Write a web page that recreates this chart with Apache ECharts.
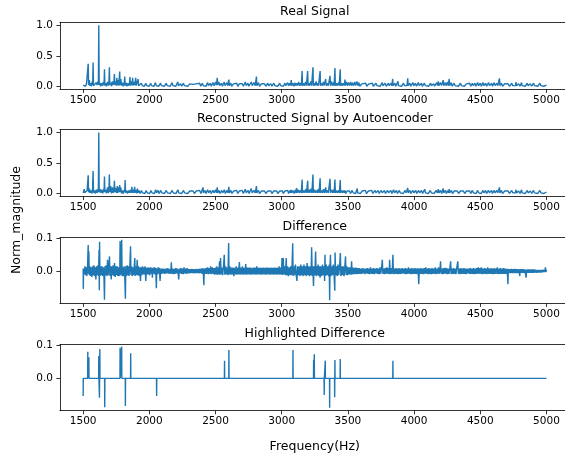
<!DOCTYPE html>
<html>
<head>
<meta charset="utf-8">
<script src="https://cdn.jsdelivr.net/npm/echarts@6/dist/echarts.min.js"></script>
<style>html,body{margin:0;padding:0;background:#fff}#c{width:565px;height:459px}</style>
</head>
<body>
<div id="c"></div>
<script>
const panelTitles = ['Real Signal', 'Reconstructed Signal by Autoencoder', 'Difference', 'Highlighted Difference'];
const xTicks = [1500, 2000, 2500, 3000, 3500, 4000, 4500, 5000];
const yTicksMag = [0, 0.5, 1.0];
const yTicksDiff = [0, 0.1];

const realSignal = [[1500,0.02],[1502,0.05],[1505,0.01],[1512,0.03],[1518,0.0],[1525,0.04],[1530,0.01],[1538,0.37],[1541,0.02],[1547,0.1],[1550,0.01],[1558,0.05],[1563,0.0],[1569,0.08],[1572,0.02],[1575,0.39],[1578,0.01],[1585,0.04],[1592,0.0],[1600,0.06],[1605,0.02],[1612,0.08],[1615,0.02],[1618,1.0],[1621,0.02],[1626,0.06],[1632,0.0],[1640,0.05],[1647,0.01],[1653,0.07],[1658,0.02],[1661,0.28],[1664,0.01],[1670,0.05],[1676,0.0],[1684,0.07],[1690,0.01],[1695,0.09],[1698,0.31],[1701,0.02],[1708,0.06],[1714,0.0],[1720,0.08],[1726,0.02],[1733,0.09],[1736,0.2],[1739,0.02],[1746,0.08],[1751,0.01],[1754,0.14],[1757,0.02],[1763,0.1],[1768,0.01],[1772,0.12],[1776,0.24],[1779,0.02],[1785,0.12],[1790,0.01],[1797,0.06],[1803,0.0],[1810,0.05],[1814,0.16],[1817,0.01],[1824,0.06],[1830,0.0],[1838,0.05],[1845,0.01],[1850,0.05],[1854,0.15],[1857,0.01],[1864,0.08],[1870,0.02],[1874,0.14],[1877,0.01],[1884,0.07],[1890,0.02],[1897,0.14],[1900,0.01],[1906,0.05],[1911,0.02],[1915,0.12],[1918,0.01],[1925,0.04],[1932,0.0],[1940,0.05],[1946,0.01],[1955,0.04],[1962,0.0],[1973,0.05],[1980,0.01],[1990,0.04],[1998,0.0],[2010,0.05],[2016,0.01],[2026,0.04],[2035,0.0],[2046,0.06],[2052,0.01],[2062,0.04],[2070,0.0],[2085,0.05],[2092,0.01],[2105,0.04],[2113,0.0],[2128,0.05],[2135,0.01],[2150,0.03],[2158,0.0],[2172,0.06],[2178,0.01],[2192,0.04],[2200,0.0],[2214,0.07],[2220,0.01],[2236,0.04],[2244,0.0],[2258,0.05],[2265,0.01],[2280,0.03],[2290,0.0],[2305,0.04],[2315,0.01],[2330,0.03],[2340,0.0],[2355,0.04],[2365,0.01],[2380,0.05],[2388,0.0],[2400,0.05],[2408,0.01],[2420,0.04],[2428,0.0],[2440,0.06],[2447,0.01],[2460,0.05],[2468,0.0],[2480,0.06],[2490,0.01],[2500,0.07],[2507,0.02],[2513,0.14],[2516,0.02],[2525,0.07],[2532,0.01],[2545,0.05],[2552,0.0],[2565,0.07],[2572,0.01],[2585,0.06],[2592,0.01],[2601,0.11],[2604,0.01],[2615,0.05],[2622,0.0],[2635,0.04],[2645,0.01],[2660,0.05],[2668,0.0],[2680,0.04],[2690,0.01],[2702,0.04],[2710,0.0],[2725,0.07],[2732,0.01],[2745,0.05],[2752,0.0],[2770,0.07],[2777,0.01],[2790,0.06],[2800,0.01],[2809,0.16],[2812,0.01],[2825,0.06],[2832,0.0],[2848,0.04],[2856,0.01],[2870,0.04],[2880,0.0],[2895,0.05],[2902,0.01],[2918,0.04],[2926,0.0],[2940,0.05],[2948,0.01],[2962,0.04],[2970,0.0],[2985,0.05],[2992,0.01],[3005,0.04],[3012,0.0],[3025,0.05],[3032,0.01],[3045,0.06],[3052,0.01],[3060,0.05],[3066,0.01],[3072,0.1],[3076,0.01],[3085,0.05],[3092,0.0],[3100,0.06],[3106,0.01],[3114,0.05],[3120,0.01],[3128,0.07],[3134,0.01],[3142,0.05],[3148,0.01],[3154,0.25],[3157,0.01],[3165,0.05],[3172,0.01],[3180,0.07],[3186,0.01],[3196,0.25],[3199,0.01],[3206,0.05],[3212,0.01],[3220,0.08],[3226,0.01],[3236,0.31],[3239,0.01],[3246,0.05],[3252,0.01],[3260,0.08],[3266,0.01],[3272,0.05],[3278,0.01],[3290,0.25],[3293,0.01],[3300,0.05],[3306,0.01],[3315,0.07],[3320,0.01],[3332,0.12],[3336,0.01],[3345,0.05],[3352,0.01],[3365,0.17],[3368,0.01],[3376,0.08],[3383,0.01],[3392,0.06],[3396,0.01],[3402,0.3],[3405,0.01],[3412,0.05],[3418,0.01],[3428,0.06],[3434,0.01],[3442,0.28],[3445,0.01],[3452,0.05],[3458,0.01],[3466,0.05],[3472,0.01],[3478,0.11],[3481,0.01],[3490,0.07],[3496,0.01],[3505,0.06],[3512,0.01],[3520,0.07],[3527,0.01],[3535,0.06],[3542,0.01],[3552,0.07],[3558,0.01],[3568,0.08],[3575,0.01],[3583,0.06],[3590,0.0],[3605,0.04],[3615,0.01],[3635,0.05],[3642,0.0],[3660,0.04],[3668,0.01],[3685,0.05],[3692,0.0],[3712,0.05],[3720,0.01],[3735,0.04],[3745,0.0],[3758,0.06],[3766,0.01],[3780,0.05],[3790,0.0],[3805,0.05],[3812,0.01],[3825,0.05],[3832,0.01],[3838,0.12],[3841,0.01],[3855,0.05],[3862,0.0],[3878,0.08],[3882,0.01],[3895,0.04],[3905,0.0],[3920,0.05],[3928,0.01],[3940,0.04],[3946,0.01],[3952,0.13],[3955,0.01],[3968,0.05],[3975,0.0],[3990,0.06],[3998,0.01],[4010,0.05],[4018,0.0],[4032,0.06],[4040,0.01],[4055,0.05],[4062,0.0],[4078,0.05],[4085,0.01],[4100,0.04],[4110,0.0],[4125,0.05],[4132,0.01],[4148,0.04],[4155,0.0],[4170,0.06],[4177,0.01],[4183,0.08],[4188,0.01],[4200,0.06],[4207,0.01],[4220,0.1],[4224,0.01],[4235,0.06],[4242,0.01],[4252,0.07],[4258,0.01],[4265,0.12],[4268,0.01],[4280,0.06],[4288,0.0],[4302,0.05],[4310,0.01],[4325,0.04],[4335,0.0],[4350,0.05],[4358,0.01],[4372,0.04],[4380,0.0],[4395,0.04],[4405,0.01],[4420,0.05],[4428,0.0],[4440,0.05],[4448,0.01],[4460,0.05],[4468,0.0],[4480,0.06],[4488,0.01],[4500,0.05],[4508,0.0],[4520,0.06],[4528,0.01],[4540,0.05],[4548,0.0],[4562,0.06],[4570,0.01],[4585,0.05],[4592,0.0],[4605,0.06],[4612,0.01],[4625,0.05],[4632,0.01],[4645,0.13],[4648,0.01],[4660,0.05],[4668,0.0],[4685,0.04],[4695,0.01],[4710,0.04],[4720,0.0],[4738,0.05],[4745,0.01],[4760,0.04],[4766,0.01],[4770,0.07],[4774,0.01],[4790,0.04],[4800,0.0],[4812,0.06],[4816,0.01],[4830,0.04],[4840,0.0],[4855,0.05],[4862,0.01],[4878,0.04],[4888,0.0],[4902,0.05],[4910,0.01],[4925,0.04],[4935,0.0],[4950,0.05],[4958,0.01],[4972,0.04],[4980,0.0],[4992,0.03],[5000,0.02]];

const reconSignal = [[1500,0.01],[1504,0.04],[1508,0.07],[1511,0.01],[1518,0.04],[1524,0.0],[1530,0.05],[1535,0.02],[1538,0.3],[1541,0.02],[1547,0.08],[1552,0.01],[1560,0.05],[1566,0.0],[1571,0.07],[1575,0.37],[1578,0.01],[1586,0.05],[1592,0.0],[1600,0.06],[1606,0.01],[1612,0.07],[1615,0.02],[1618,1.0],[1621,0.02],[1628,0.07],[1634,0.01],[1642,0.06],[1648,0.0],[1655,0.07],[1658,0.02],[1661,0.28],[1664,0.02],[1671,0.06],[1677,0.0],[1684,0.1],[1690,0.01],[1695,0.08],[1698,0.31],[1701,0.02],[1708,0.12],[1714,0.0],[1721,0.1],[1727,0.01],[1733,0.08],[1736,0.21],[1739,0.02],[1746,0.09],[1752,0.01],[1758,0.12],[1762,0.01],[1768,0.1],[1772,0.02],[1776,0.14],[1779,0.02],[1784,0.1],[1790,0.0],[1798,0.05],[1804,0.0],[1811,0.06],[1814,0.02],[1817,0.22],[1820,0.01],[1828,0.05],[1835,0.0],[1844,0.05],[1850,0.01],[1858,0.06],[1863,0.01],[1868,0.11],[1871,0.01],[1878,0.06],[1884,0.01],[1889,0.11],[1892,0.01],[1900,0.06],[1906,0.0],[1910,0.08],[1914,0.01],[1922,0.05],[1930,0.0],[1940,0.05],[1948,0.01],[1958,0.04],[1966,0.0],[1976,0.05],[1984,0.01],[1994,0.04],[2002,0.0],[2012,0.05],[2020,0.01],[2030,0.04],[2038,0.0],[2048,0.06],[2055,0.01],[2066,0.05],[2074,0.0],[2086,0.05],[2094,0.01],[2106,0.04],[2114,0.0],[2128,0.05],[2136,0.01],[2150,0.04],[2158,0.0],[2172,0.05],[2180,0.01],[2194,0.04],[2202,0.0],[2215,0.06],[2222,0.01],[2236,0.04],[2244,0.0],[2258,0.05],[2266,0.01],[2280,0.04],[2290,0.0],[2305,0.04],[2315,0.01],[2330,0.04],[2340,0.0],[2355,0.04],[2365,0.01],[2380,0.05],[2390,0.0],[2405,0.1],[2409,0.01],[2420,0.05],[2428,0.0],[2440,0.06],[2448,0.01],[2460,0.05],[2468,0.0],[2480,0.05],[2490,0.01],[2500,0.06],[2507,0.01],[2513,0.1],[2516,0.01],[2526,0.05],[2534,0.0],[2546,0.05],[2554,0.01],[2566,0.06],[2574,0.0],[2586,0.05],[2594,0.01],[2601,0.11],[2604,0.01],[2616,0.05],[2624,0.0],[2636,0.04],[2646,0.01],[2660,0.05],[2668,0.0],[2680,0.04],[2690,0.01],[2702,0.05],[2710,0.0],[2725,0.07],[2732,0.01],[2746,0.05],[2754,0.0],[2770,0.08],[2777,0.01],[2790,0.05],[2800,0.01],[2809,0.12],[2812,0.01],[2825,0.05],[2832,0.0],[2848,0.04],[2856,0.01],[2870,0.04],[2880,0.0],[2895,0.04],[2902,0.01],[2918,0.04],[2926,0.0],[2940,0.04],[2948,0.01],[2962,0.04],[2970,0.0],[2985,0.04],[2992,0.01],[3005,0.04],[3012,0.0],[3025,0.04],[3032,0.01],[3045,0.05],[3052,0.0],[3062,0.05],[3066,0.01],[3070,0.06],[3076,0.01],[3086,0.05],[3094,0.0],[3104,0.06],[3108,0.01],[3112,0.09],[3116,0.01],[3126,0.06],[3132,0.01],[3142,0.05],[3148,0.01],[3154,0.23],[3157,0.01],[3166,0.05],[3172,0.01],[3182,0.07],[3188,0.01],[3196,0.21],[3199,0.01],[3208,0.06],[3214,0.01],[3222,0.08],[3228,0.01],[3236,0.31],[3239,0.01],[3248,0.06],[3254,0.01],[3262,0.05],[3268,0.01],[3276,0.07],[3282,0.01],[3290,0.25],[3293,0.01],[3302,0.05],[3308,0.01],[3316,0.07],[3322,0.01],[3332,0.1],[3336,0.01],[3345,0.05],[3352,0.01],[3365,0.24],[3368,0.01],[3376,0.06],[3383,0.01],[3392,0.06],[3396,0.01],[3402,0.23],[3405,0.01],[3414,0.05],[3420,0.01],[3430,0.05],[3436,0.01],[3442,0.22],[3445,0.01],[3454,0.05],[3460,0.01],[3468,0.05],[3474,0.01],[3478,0.05],[3484,0.0],[3494,0.04],[3502,0.01],[3512,0.04],[3520,0.0],[3532,0.05],[3540,0.01],[3550,0.04],[3558,0.0],[3570,0.08],[3574,0.01],[3586,0.04],[3595,0.0],[3608,0.04],[3618,0.01],[3632,0.05],[3640,0.0],[3655,0.04],[3665,0.01],[3680,0.05],[3688,0.0],[3705,0.05],[3712,0.01],[3728,0.05],[3736,0.0],[3752,0.05],[3760,0.01],[3776,0.05],[3784,0.0],[3800,0.05],[3808,0.01],[3824,0.05],[3832,0.0],[3845,0.06],[3852,0.01],[3866,0.05],[3874,0.0],[3888,0.05],[3896,0.01],[3910,0.04],[3918,0.0],[3932,0.05],[3940,0.01],[3952,0.09],[3956,0.01],[3968,0.05],[3976,0.0],[3990,0.05],[3998,0.01],[4012,0.05],[4020,0.0],[4034,0.05],[4042,0.01],[4056,0.05],[4064,0.0],[4080,0.07],[4086,0.01],[4100,0.04],[4108,0.0],[4122,0.05],[4130,0.01],[4144,0.04],[4152,0.0],[4166,0.05],[4176,0.01],[4183,0.07],[4188,0.01],[4200,0.05],[4208,0.0],[4220,0.08],[4224,0.01],[4236,0.05],[4244,0.0],[4254,0.05],[4260,0.01],[4265,0.07],[4269,0.01],[4282,0.05],[4290,0.0],[4304,0.04],[4312,0.01],[4326,0.04],[4336,0.0],[4350,0.04],[4358,0.01],[4372,0.04],[4382,0.0],[4396,0.04],[4406,0.01],[4420,0.04],[4428,0.0],[4440,0.05],[4448,0.01],[4460,0.04],[4468,0.0],[4480,0.05],[4488,0.01],[4500,0.04],[4508,0.0],[4520,0.05],[4528,0.01],[4540,0.05],[4548,0.0],[4562,0.05],[4570,0.01],[4585,0.05],[4592,0.0],[4605,0.05],[4612,0.01],[4625,0.05],[4632,0.01],[4645,0.1],[4648,0.01],[4660,0.05],[4668,0.0],[4685,0.04],[4695,0.01],[4710,0.04],[4720,0.0],[4738,0.05],[4745,0.01],[4758,0.04],[4764,0.01],[4770,0.06],[4774,0.01],[4790,0.04],[4800,0.0],[4812,0.06],[4816,0.01],[4830,0.04],[4840,0.0],[4855,0.05],[4862,0.01],[4878,0.04],[4888,0.0],[4902,0.05],[4910,0.01],[4925,0.04],[4935,0.0],[4950,0.05],[4958,0.01],[4972,0.04],[4980,0.0],[4992,0.03],[5000,0.02]];

const diffSignal = [[1500,0.008],[1501,-0.054],[1503,0.006],[1508,-0.01],[1513,0.015],[1518,-0.012],[1523,0.012],[1528,-0.015],[1533,0.015],[1538,0.08],[1540,-0.008],[1543,0.06],[1546,-0.012],[1551,0.015],[1556,-0.015],[1561,0.012],[1566,-0.018],[1571,0.015],[1576,-0.012],[1581,0.018],[1586,-0.015],[1591,0.012],[1596,-0.025],[1601,0.015],[1606,-0.012],[1611,0.018],[1616,-0.015],[1620,0.065],[1622,-0.058],[1624,0.09],[1627,-0.015],[1632,0.015],[1637,-0.012],[1642,0.015],[1647,-0.015],[1652,0.012],[1657,-0.015],[1661,-0.087],[1664,0.015],[1669,-0.012],[1674,0.018],[1679,-0.015],[1684,0.035],[1689,-0.012],[1694,0.015],[1699,0.045],[1702,-0.015],[1707,0.015],[1712,-0.025],[1717,0.015],[1722,-0.012],[1727,0.018],[1732,-0.015],[1737,0.025],[1742,-0.018],[1747,0.015],[1752,-0.012],[1757,0.015],[1762,-0.015],[1767,0.012],[1772,-0.015],[1777,0.015],[1779,0.092],[1782,-0.012],[1787,0.015],[1791,0.096],[1794,-0.015],[1799,0.012],[1804,-0.015],[1809,0.015],[1814,-0.012],[1819,-0.084],[1822,0.015],[1827,-0.015],[1832,0.018],[1837,-0.012],[1842,0.015],[1847,-0.015],[1852,0.012],[1858,0.076],[1861,-0.012],[1866,0.015],[1871,-0.015],[1876,0.012],[1881,-0.012],[1886,0.015],[1890,0.04],[1893,-0.015],[1898,0.015],[1903,-0.012],[1908,0.035],[1913,-0.012],[1918,0.015],[1923,-0.015],[1928,0.012],[1933,-0.03],[1938,0.012],[1943,-0.012],[1948,0.015],[1953,-0.01],[1958,0.012],[1963,-0.01],[1968,0.015],[1973,-0.03],[1978,0.01],[1983,-0.01],[1988,0.012],[1993,-0.01],[1998,0.01],[2003,-0.012],[2008,0.012],[2013,-0.008],[2018,0.01],[2023,-0.02],[2028,0.01],[2033,-0.008],[2038,0.012],[2043,-0.01],[2048,0.01],[2053,-0.052],[2056,0.008],[2061,-0.01],[2066,0.012],[2071,-0.008],[2076,0.01],[2081,-0.03],[2086,0.008],[2092,-0.008],[2098,0.008],[2104,-0.007],[2110,0.008],[2116,-0.008],[2122,0.007],[2128,-0.007],[2134,0.009],[2140,-0.007],[2146,0.008],[2152,-0.008],[2158,0.007],[2162,-0.008],[2166,0.027],[2170,-0.008],[2176,0.008],[2182,-0.009],[2188,0.007],[2194,-0.008],[2200,0.009],[2206,-0.007],[2212,0.008],[2218,-0.009],[2222,-0.025],[2226,0.008],[2232,-0.007],[2238,0.009],[2244,-0.008],[2250,0.008],[2256,-0.009],[2262,0.012],[2268,-0.007],[2274,0.008],[2280,-0.008],[2286,0.009],[2292,-0.007],[2298,0.006],[2304,-0.007],[2310,0.006],[2316,-0.006],[2322,0.007],[2328,-0.006],[2334,0.006],[2340,-0.007],[2346,0.006],[2352,-0.006],[2358,0.007],[2364,-0.006],[2370,0.006],[2376,-0.007],[2382,0.008],[2388,-0.006],[2394,0.008],[2400,-0.008],[2406,0.009],[2412,-0.043],[2415,0.008],[2421,-0.008],[2427,0.009],[2433,-0.008],[2439,0.012],[2445,-0.009],[2451,0.009],[2457,-0.008],[2463,0.015],[2469,-0.009],[2475,0.012],[2481,-0.008],[2487,0.009],[2493,-0.011],[2499,0.011],[2505,-0.01],[2510,0.015],[2515,-0.011],[2520,0.011],[2525,-0.01],[2530,0.03],[2535,-0.011],[2538,0.04],[2542,-0.01],[2548,0.011],[2554,-0.012],[2560,0.015],[2566,0.05],[2570,-0.011],[2576,0.015],[2582,-0.01],[2588,0.011],[2594,-0.012],[2599,0.086],[2602,-0.01],[2608,0.015],[2614,-0.011],[2620,0.011],[2626,-0.01],[2632,0.011],[2638,-0.015],[2644,0.01],[2650,-0.01],[2656,0.015],[2662,-0.011],[2668,0.011],[2674,-0.01],[2680,0.028],[2686,-0.011],[2692,0.011],[2698,-0.01],[2704,0.015],[2710,-0.011],[2716,0.01],[2722,-0.01],[2728,0.022],[2734,-0.011],[2740,0.011],[2746,-0.01],[2752,0.011],[2758,-0.01],[2764,0.011],[2770,-0.011],[2776,0.01],[2782,-0.01],[2788,0.011],[2794,-0.01],[2800,0.011],[2806,-0.011],[2812,0.015],[2818,-0.01],[2824,0.01],[2830,-0.01],[2836,0.011],[2842,-0.011],[2848,0.01],[2854,-0.01],[2860,0.011],[2866,-0.01],[2872,0.01],[2878,-0.011],[2884,0.011],[2890,-0.01],[2896,0.011],[2902,-0.01],[2908,0.01],[2914,-0.011],[2920,0.011],[2926,-0.01],[2932,0.01],[2938,-0.011],[2944,0.011],[2950,-0.01],[2956,0.011],[2962,-0.011],[2968,0.01],[2974,-0.01],[2980,0.015],[2986,-0.011],[2992,0.011],[2998,-0.01],[3002,0.04],[3006,-0.012],[3012,0.04],[3016,-0.01],[3022,0.015],[3028,-0.012],[3034,0.04],[3038,-0.012],[3044,0.015],[3050,-0.015],[3056,0.012],[3062,-0.012],[3068,0.015],[3074,-0.012],[3078,0.015],[3083,0.085],[3086,-0.015],[3092,0.015],[3098,-0.012],[3104,0.02],[3110,-0.015],[3115,-0.03],[3120,0.015],[3126,-0.012],[3132,0.015],[3138,-0.015],[3144,0.02],[3150,-0.012],[3156,0.015],[3162,-0.015],[3168,0.02],[3174,-0.012],[3180,0.015],[3186,-0.015],[3192,0.025],[3198,-0.012],[3204,0.015],[3210,-0.015],[3216,0.015],[3222,-0.012],[3226,0.073],[3230,-0.015],[3235,0.015],[3240,-0.045],[3244,0.015],[3250,-0.012],[3256,0.06],[3260,-0.015],[3266,0.015],[3270,-0.012],[3275,0.02],[3280,-0.015],[3286,0.015],[3290,-0.02],[3296,0.015],[3302,-0.015],[3308,0.02],[3314,-0.012],[3320,0.015],[3324,-0.03],[3327,0.05],[3330,-0.015],[3336,0.02],[3342,-0.012],[3348,0.015],[3354,-0.015],[3359,0.02],[3362,-0.089],[3365,0.015],[3368,0.05],[3372,-0.015],[3378,0.015],[3384,-0.012],[3390,0.02],[3396,-0.015],[3401,-0.06],[3403,0.057],[3407,-0.012],[3413,0.015],[3419,-0.015],[3425,0.02],[3431,-0.012],[3437,0.015],[3443,0.055],[3447,-0.015],[3453,0.015],[3459,-0.012],[3465,0.015],[3471,-0.015],[3477,0.015],[3482,0.045],[3486,-0.012],[3492,0.015],[3498,-0.012],[3504,0.012],[3510,-0.01],[3516,0.012],[3522,-0.011],[3528,0.03],[3532,-0.01],[3538,0.011],[3544,-0.009],[3550,0.01],[3556,-0.009],[3562,0.011],[3568,-0.009],[3574,0.009],[3580,-0.008],[3586,0.009],[3592,-0.008],[3598,0.008],[3604,-0.008],[3610,0.009],[3616,-0.007],[3622,0.008],[3628,-0.009],[3634,0.008],[3640,-0.007],[3646,0.009],[3652,-0.008],[3658,0.008],[3664,-0.009],[3670,0.012],[3676,-0.008],[3682,0.008],[3688,-0.008],[3694,0.009],[3700,-0.009],[3706,0.008],[3712,-0.007],[3718,0.009],[3724,-0.008],[3730,0.008],[3736,-0.009],[3742,0.012],[3748,-0.008],[3754,0.009],[3760,0.035],[3764,-0.008],[3770,0.008],[3776,-0.009],[3782,0.009],[3788,-0.008],[3794,0.012],[3800,-0.008],[3806,0.009],[3812,-0.008],[3815,0.035],[3820,-0.009],[3826,0.009],[3832,-0.008],[3836,0.01],[3840,0.05],[3844,-0.009],[3850,0.008],[3856,-0.008],[3862,0.009],[3868,-0.008],[3874,0.008],[3880,-0.009],[3886,0.009],[3892,-0.008],[3898,0.008],[3904,-0.008],[3910,0.009],[3916,-0.007],[3922,0.008],[3928,-0.008],[3934,0.009],[3940,-0.009],[3946,0.008],[3952,-0.008],[3958,0.012],[3964,-0.008],[3970,0.008],[3976,-0.009],[3982,0.009],[3988,-0.008],[3994,0.008],[4000,-0.008],[4006,0.009],[4012,-0.008],[4018,0.008],[4024,-0.009],[4030,0.009],[4035,-0.04],[4040,0.008],[4046,-0.008],[4052,0.009],[4058,-0.008],[4064,0.008],[4070,-0.009],[4076,0.009],[4082,-0.008],[4088,0.012],[4094,-0.008],[4100,0.008],[4106,-0.009],[4112,0.009],[4118,-0.008],[4124,0.008],[4130,-0.009],[4136,0.009],[4142,-0.008],[4148,0.008],[4154,-0.008],[4160,0.012],[4166,-0.009],[4172,0.008],[4178,-0.008],[4184,0.012],[4190,-0.008],[4196,0.009],[4200,0.03],[4204,-0.008],[4210,0.008],[4216,-0.009],[4222,0.009],[4228,-0.008],[4234,0.01],[4240,-0.008],[4246,0.009],[4252,-0.009],[4258,0.008],[4264,-0.008],[4270,0.009],[4276,0.03],[4280,-0.009],[4286,0.008],[4292,-0.008],[4298,0.009],[4304,-0.008],[4310,0.008],[4316,-0.009],[4322,0.009],[4330,0.03],[4334,-0.008],[4340,0.008],[4346,-0.009],[4352,0.009],[4358,-0.008],[4364,0.008],[4370,-0.008],[4376,0.009],[4382,-0.008],[4388,0.008],[4394,-0.009],[4400,0.008],[4406,-0.007],[4412,0.008],[4418,-0.008],[4424,0.009],[4430,-0.008],[4436,0.008],[4442,-0.008],[4448,0.009],[4454,-0.009],[4460,0.008],[4466,-0.008],[4472,0.009],[4478,-0.008],[4484,0.012],[4490,-0.008],[4496,0.009],[4502,-0.008],[4508,0.012],[4514,-0.009],[4520,0.008],[4526,-0.008],[4532,0.009],[4538,-0.008],[4544,0.008],[4550,-0.009],[4556,0.012],[4562,-0.008],[4568,0.008],[4574,-0.008],[4580,0.009],[4586,-0.008],[4592,0.008],[4598,-0.009],[4604,0.009],[4610,-0.008],[4616,0.008],[4622,-0.008],[4628,0.012],[4634,-0.009],[4640,0.008],[4646,-0.008],[4652,0.009],[4658,-0.008],[4664,0.008],[4670,-0.008],[4676,0.009],[4682,-0.008],[4688,0.008],[4694,-0.008],[4700,0.007],[4705,-0.007],[4709,-0.04],[4712,0.007],[4718,-0.006],[4724,0.006],[4730,-0.006],[4736,0.007],[4742,-0.006],[4748,0.006],[4754,-0.006],[4760,0.007],[4766,-0.006],[4772,0.006],[4778,-0.006],[4784,0.006],[4790,-0.007],[4796,0.006],[4798,-0.015],[4802,0.006],[4808,-0.005],[4814,0.006],[4820,-0.005],[4826,0.006],[4832,-0.006],[4838,0.005],[4846,-0.02],[4850,0.005],[4856,-0.005],[4862,0.005],[4868,-0.005],[4874,0.005],[4880,-0.005],[4886,0.005],[4892,-0.005],[4898,0.005],[4904,-0.005],[4910,0.005],[4916,-0.004],[4922,0.004],[4928,-0.005],[4934,0.004],[4940,-0.004],[4946,0.004],[4952,-0.004],[4958,0.004],[4964,-0.004],[4970,0.004],[4976,-0.003],[4982,0.004],[4988,-0.003],[4992,0.012],[4996,-0.003],[5000,0.005]];

const highlightDiff = [[1500,-0.053],[1501,0],[1534,0],[1535,0.08],[1536,0],[1542,0],[1543,0.063],[1544,0],[1617,0],[1618,0.067],[1619,0],[1622,0],[1623,-0.058],[1624,0],[1625,0],[1626,0.088],[1627,0],[1662,0],[1663,-0.087],[1664,0],[1778,0],[1779,0.092],[1780,0],[1790,0],[1791,0.095],[1792,0],[1818,0],[1819,-0.083],[1820,0],[1858,0],[1859,0.075],[1860,0],[2054,0],[2055,-0.053],[2056,0],[2567,0],[2568,0.053],[2569,0],[2600,0],[2601,0.085],[2602,0],[3084,0],[3085,0.085],[3086,0],[3240,0],[3241,0.055],[3242,0],[3245,0],[3246,0.072],[3247,0],[3320,0],[3321,-0.05],[3322,0],[3328,0],[3329,0.053],[3330,0],[3361,0],[3362,-0.088],[3363,0],[3399,0],[3400,-0.057],[3401,0],[3402,0.055],[3403,0],[3441,0],[3442,0.058],[3443,0],[3839,0],[3840,0.053],[3841,0],[5000,0]];

const seriesData = [realSignal, reconSignal, diffSignal, highlightDiff];
const yRanges = [[-0.05, 1.05], [-0.05, 1.05], [-0.098, 0.102], [-0.097, 0.102]];
const yTickSets = [yTicksMag, yTicksMag, yTicksDiff, yTicksDiff];

const FONT = 'DejaVu Sans';
const gridTops = [22.3, 129.5, 237.7, 344.3];
const gridHeights = [67, 67, 65.6, 66.4];
const gridLeft = 60, gridWidth = 505;
const xMin = 1325, xMax = 5140;
const centerX = 314.75;

const grids = [], xAxes = [], yAxes = [], series = [], titles = [];
const spine = {show: true, onZero: false, lineStyle: {color: '#000', width: 0.8}};
for (let i = 0; i < 4; i++) {
  grids.push({left: gridLeft, top: gridTops[i], width: gridWidth, height: gridHeights[i], show: false, containLabel: false});
  xAxes.push({type: 'value', gridIndex: i, position: 'bottom', min: xMin, max: xMax,
    axisLine: spine,
    axisTick: {show: true, inside: false, length: 3.6, customValues: xTicks, lineStyle: {color: '#000', width: 0.8}},
    axisLabel: {customValues: xTicks, margin: 5, color: '#000', fontSize: 10.5, fontFamily: FONT, formatter: v => String(v)},
    splitLine: {show: false}});
  yAxes.push({type: 'value', gridIndex: i, position: 'left', min: yRanges[i][0], max: yRanges[i][1],
    axisLine: spine,
    axisTick: {show: true, inside: false, length: 3.6, customValues: yTickSets[i], lineStyle: {color: '#000', width: 0.8}},
    axisLabel: {customValues: yTickSets[i], margin: 7, color: '#000', fontSize: 10.5, fontFamily: FONT, formatter: v => v.toFixed(1)},
    splitLine: {show: false}});
  series.push({type: 'line', xAxisIndex: i, yAxisIndex: i, data: seriesData[i], showSymbol: false, symbol: 'none',
    lineStyle: {color: '#1f77b4', width: 1.4}, itemStyle: {color: '#1f77b4'}, animation: false, silent: true});
  titles.push({text: panelTitles[i], left: centerX, textAlign: 'center', top: gridTops[i] - 17, padding: 0,
    textStyle: {fontSize: 12.5, fontWeight: 'normal', color: '#000', fontFamily: FONT}});
}
for (let i = 0; i < 4; i++) {
  xAxes.push({type: 'value', gridIndex: i, position: 'top', min: xMin, max: xMax,
    axisLine: spine, axisTick: {show: false}, axisLabel: {show: false}, splitLine: {show: false}});
}

const chart = echarts.init(document.getElementById('c'), null, {renderer: 'canvas'});
chart.setOption({
  animation: false,
  backgroundColor: '#fff',
  textStyle: {fontFamily: FONT},
  title: titles,
  grid: grids,
  xAxis: xAxes,
  yAxis: yAxes,
  series: series,
  graphic: [
    {type: 'text', x: 17, y: 220, rotation: Math.PI / 2,
      style: {text: 'Norm_magnitude', textAlign: 'center', textVerticalAlign: 'middle', font: '12.5px "DejaVu Sans"', fill: '#000'}},
    {type: 'text', x: centerX, y: 446.5,
      style: {text: 'Frequency(Hz)', textAlign: 'center', textVerticalAlign: 'middle', font: '12.5px "DejaVu Sans"', fill: '#000'}}
  ]
});
</script>
</body>
</html>
